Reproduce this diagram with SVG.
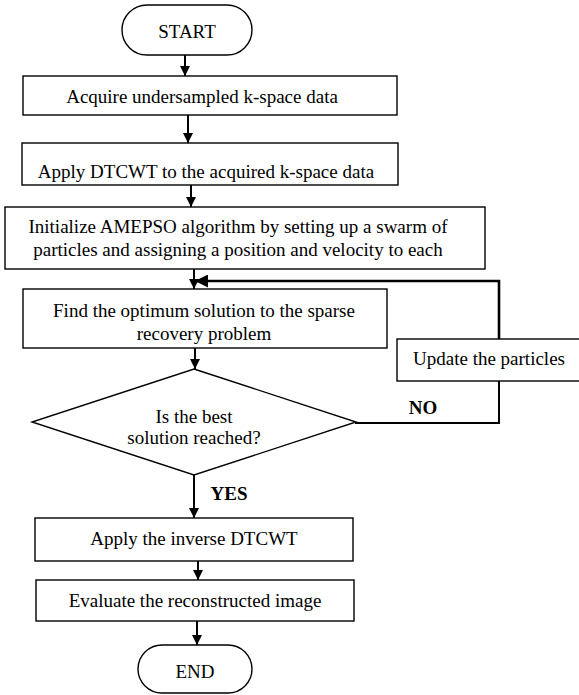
<svg xmlns="http://www.w3.org/2000/svg" width="579" height="695" viewBox="0 0 579 695">
  <style>
    .box { fill: #fff; stroke: #000; stroke-width: 1.4; }
    text { font-family: "Liberation Serif", "DejaVu Serif", "Times New Roman", serif; font-size: 19px; fill: #000; text-anchor: middle; dominant-baseline: central; }
    .bold { font-weight: bold; }
    .edge { fill: none; stroke: #000; stroke-width: 2; }
    .loop { fill: none; stroke: #000; stroke-width: 2.6; }
  </style>
  <defs>
    <marker id="arrow" viewBox="0 0 10 10" refX="10" refY="5" markerWidth="5" markerHeight="5" orient="auto" markerUnits="strokeWidth">
      <path d="M0,0 L10,5 L0,10 z" fill="#000"/>
    </marker>
  </defs>
  <rect width="579" height="695" fill="#fff"/>

  <g id="connectors">
    <line class="edge" x1="185" y1="55" x2="185" y2="76" marker-end="url(#arrow)"/>
    <line class="edge" x1="188" y1="115" x2="188" y2="143" marker-end="url(#arrow)"/>
    <line class="edge" x1="191" y1="185" x2="191" y2="207" marker-end="url(#arrow)"/>
    <line class="edge" x1="194" y1="269" x2="194" y2="289" marker-end="url(#arrow)"/>
    <line class="edge" x1="195" y1="348" x2="195" y2="369" marker-end="url(#arrow)"/>
    <line class="edge" x1="194" y1="475" x2="194" y2="518" marker-end="url(#arrow)"/>
    <line class="edge" x1="198" y1="561" x2="198" y2="580" marker-end="url(#arrow)"/>
    <line class="edge" x1="197" y1="621" x2="197" y2="645" marker-end="url(#arrow)"/>
    <!-- NO branch: diamond -> update -> back to the optimisation step -->
    <polyline class="edge" points="355,423 499,423 499,381"/>
    <polyline class="loop" points="499,339 499,281 195,281" marker-end="url(#arrow)"/>
  </g>

  <g id="start">
    <rect class="box" x="122" y="5" width="130" height="50" rx="25" ry="25"/>
    <text x="187" y="31">START</text>
  </g>
  <g id="acquire">
    <rect class="box" x="23" y="76" width="374" height="39"/>
    <text x="202" y="96">Acquire undersampled k-space data</text>
  </g>
  <g id="dtcwt">
    <rect class="box" x="22" y="143" width="376" height="42"/>
    <text x="206" y="171">Apply DTCWT to the acquired k-space data</text>
  </g>
  <g id="init">
    <rect class="box" x="5" y="207" width="480" height="62"/>
    <text x="238" y="226">Initialize AMEPSO algorithm by setting up a swarm of</text>
    <text x="238" y="249">particles and assigning a position and velocity to each</text>
  </g>
  <g id="optimum">
    <rect class="box" x="23" y="289" width="364" height="59"/>
    <text x="204" y="310">Find the optimum solution to the sparse</text>
    <text x="204" y="333">recovery problem</text>
  </g>
  <g id="update">
    <rect class="box" x="397" y="339" width="184" height="42"/>
    <text x="489" y="358">Update the particles</text>
  </g>
  <g id="decision">
    <polygon class="box" points="194,369 356,422 194,475 32,422"/>
    <text x="194" y="416">Is the best</text>
    <text x="194" y="437">solution reached?</text>
  </g>
  <text class="bold" x="423" y="407">NO</text>
  <text class="bold" x="229" y="493">YES</text>
  <g id="inverse">
    <rect class="box" x="35" y="518" width="318" height="43"/>
    <text x="194" y="538">Apply the inverse DTCWT</text>
  </g>
  <g id="evaluate">
    <rect class="box" x="36" y="580" width="318" height="41"/>
    <text x="195" y="600">Evaluate the reconstructed image</text>
  </g>
  <g id="end">
    <rect class="box" x="138" y="645" width="114" height="48" rx="24" ry="24"/>
    <text x="195" y="671">END</text>
  </g>
</svg>
